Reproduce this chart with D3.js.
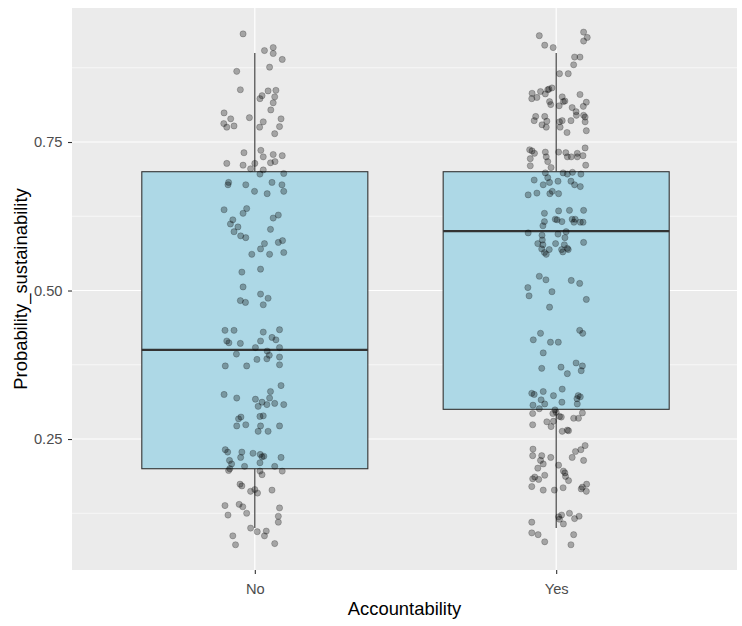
<!DOCTYPE html>
<html>
<head>
<meta charset="utf-8">
<script src="https://cdn.jsdelivr.net/npm/d3@7"></script>
<style>
  html, body { margin: 0; padding: 0; background: #ffffff; }
  svg { display: block; font-family: "Liberation Sans", Arial, sans-serif; }
</style>
</head>
<body>
<svg id="chart" width="742" height="626"></svg>
<script>
// Categories on the x axis
const categories = ["No", "Yes"];

// Box summaries per category (whisker ends, quartiles, median)
const boxLower  = [0.1, 0.1];
const boxQ1     = [0.2, 0.3];
const boxMedian = [0.4, 0.6];
const boxQ3     = [0.7, 0.7];
const boxUpper  = [0.9, 0.9];

// Y axis ticks
const yTicks = [0.25, 0.50, 0.75];
const yTickLabels = ["0.25", "0.50", "0.75"];
const yMinorTicks = [0.125, 0.375, 0.625, 0.875];

// Jittered observations, "No" group: values and horizontal jitter (category units)
const noValues = [
  0.932,0.904,0.909,0.899,0.889,0.869,0.876,0.838,0.836,0.837,0.828,0.823,0.826,0.816,0.804,0.799,
  0.791,0.789,0.781,0.775,0.777,0.784,0.789,0.775,0.776,0.764,0.732,0.736,0.725,0.729,0.727,0.717,
  0.715,0.714,0.711,0.714,0.705,0.703,0.696,0.697,0.682,0.678,0.678,0.682,0.678,0.667,0.667,0.663,
  0.636,0.638,0.630,0.627,0.622,0.619,0.612,0.607,0.603,0.599,0.592,0.589,0.579,0.584,0.581,0.570,
  0.561,0.561,0.564,0.531,0.536,0.506,0.494,0.487,0.483,0.480,0.476,0.433,0.433,0.430,0.434,0.415,
  0.412,0.411,0.421,0.417,0.415,0.404,0.404,0.398,0.393,0.391,0.385,0.388,0.384,0.373,0.373,0.375,
  0.340,0.330,0.325,0.319,0.317,0.319,0.312,0.308,0.310,0.308,0.305,0.287,0.284,0.288,0.289,0.272,
  0.274,0.272,0.272,0.263,0.263,0.232,0.228,0.228,0.226,0.224,0.220,0.221,0.219,0.219,0.214,0.208,
  0.210,0.204,0.204,0.200,0.197,0.196,0.196,0.190,0.174,0.171,0.162,0.165,0.159,0.164,0.138,0.140,
  0.136,0.134,0.122,0.125,0.120,0.110,0.100,0.094,0.095,0.087,0.087,0.072,0.074
];
const noJitter = [
  -0.039,0.032,0.061,0.061,0.091,-0.060,0.049,-0.048,0.044,0.070,0.024,0.017,0.066,0.061,0.053,-0.102,
  -0.018,-0.080,-0.103,-0.093,-0.069,0.028,0.087,0.016,0.082,0.066,-0.036,0.020,0.028,0.061,0.091,0.067,
  0.052,-0.093,-0.039,0.000,-0.014,0.028,0.017,0.096,-0.087,-0.089,-0.030,0.057,0.090,0.096,-0.001,0.041,
  -0.102,-0.027,-0.039,0.078,0.061,-0.073,-0.081,-0.056,0.052,-0.069,-0.047,-0.030,0.032,0.092,0.078,0.019,
  -0.010,0.049,0.096,-0.043,0.019,-0.039,0.019,0.044,-0.048,-0.031,0.028,-0.099,-0.069,0.028,0.082,-0.093,
  -0.086,-0.048,0.057,0.070,0.019,0.002,0.082,0.041,-0.061,0.048,0.040,0.082,0.007,-0.098,-0.027,0.082,
  0.087,0.052,-0.102,-0.060,0.002,0.049,0.024,0.040,0.066,0.096,0.011,-0.046,-0.054,0.017,0.028,-0.060,
  -0.030,0.019,0.082,0.011,0.044,-0.098,-0.090,-0.043,-0.006,0.018,0.024,0.030,-0.047,0.087,-0.084,-0.077,
  0.017,-0.034,0.066,-0.083,-0.087,0.017,0.091,0.024,-0.049,-0.043,-0.014,0.000,0.009,0.057,-0.099,-0.052,
  -0.040,0.082,-0.089,-0.027,0.078,0.078,-0.014,0.008,0.038,0.032,-0.073,-0.064,0.066
];

// Jittered observations, "Yes" group
const yesValues = [
  0.929,0.935,0.926,0.920,0.913,0.909,0.893,0.893,0.880,0.865,0.865,0.839,0.841,0.835,0.832,0.831,
  0.838,0.823,0.825,0.818,0.813,0.826,0.819,0.818,0.811,0.830,0.817,0.810,0.808,0.801,0.795,0.795,
  0.792,0.793,0.793,0.786,0.785,0.779,0.775,0.786,0.786,0.784,0.784,0.775,0.766,0.769,0.737,0.735,
  0.733,0.733,0.732,0.731,0.740,0.731,0.725,0.722,0.710,0.717,0.707,0.725,0.725,0.725,0.727,0.711,
  0.698,0.698,0.696,0.699,0.696,0.686,0.690,0.682,0.678,0.684,0.684,0.678,0.675,0.661,0.664,0.663,
  0.667,0.663,0.630,0.634,0.635,0.635,0.620,0.619,0.616,0.616,0.620,0.620,0.615,0.615,0.615,0.609,
  0.597,0.593,0.595,0.599,0.589,0.585,0.579,0.577,0.579,0.581,0.577,0.570,0.569,0.569,0.571,0.569,
  0.564,0.561,0.565,0.524,0.518,0.517,0.512,0.505,0.491,0.498,0.485,0.472,0.428,0.433,0.428,0.417,
  0.413,0.413,0.395,0.378,0.373,0.369,0.371,0.365,0.360,0.327,0.325,0.330,0.334,0.323,0.323,0.321,
  0.318,0.316,0.309,0.307,0.312,0.309,0.301,0.299,0.295,0.293,0.293,0.294,0.288,0.287,0.285,0.285,
  0.274,0.279,0.271,0.280,0.263,0.265,0.264,0.233,0.239,0.232,0.229,0.222,0.222,0.219,0.219,0.214,
  0.214,0.208,0.206,0.201,0.196,0.193,0.189,0.187,0.186,0.183,0.182,0.180,0.174,0.169,0.166,0.162,
  0.170,0.164,0.164,0.168,0.122,0.125,0.119,0.115,0.120,0.116,0.107,0.110,0.092,0.089,0.089,0.077,
  0.072
];
const yesJitter = [
  -0.056,0.091,0.103,0.091,-0.038,-0.010,0.061,0.079,0.058,0.011,0.040,-0.024,-0.014,-0.052,-0.080,-0.036,
  -0.028,-0.081,-0.064,-0.022,-0.018,0.020,0.029,0.024,0.010,0.079,0.100,0.090,0.053,0.066,0.067,0.091,
  0.096,-0.068,-0.038,-0.073,-0.031,-0.047,-0.033,0.020,0.049,0.096,0.011,0.013,0.036,0.100,-0.088,-0.080,
  -0.036,0.008,0.032,0.070,0.096,-0.072,-0.033,-0.086,-0.086,-0.028,-0.017,0.037,0.050,0.070,0.089,0.098,
  -0.036,0.023,0.037,0.054,0.082,-0.073,-0.028,-0.022,-0.043,0.006,0.049,0.061,0.080,-0.093,-0.064,-0.021,
  -0.013,0.008,-0.039,0.008,0.044,0.091,-0.003,0.003,0.019,-0.039,0.053,0.063,0.059,0.089,0.080,-0.044,
  -0.093,-0.047,0.006,0.033,0.029,-0.046,-0.061,-0.044,-0.002,0.091,0.027,-0.048,-0.023,0.018,0.037,0.040,
  -0.039,-0.033,0.022,-0.056,-0.034,0.050,0.078,-0.094,-0.090,-0.014,0.100,-0.022,-0.052,0.078,0.088,-0.076,
  -0.019,0.007,-0.043,0.066,0.087,-0.048,0.016,0.083,0.037,-0.081,-0.073,-0.043,0.020,-0.009,0.073,0.080,
  0.069,-0.050,-0.038,-0.077,0.019,0.070,-0.056,-0.004,0.000,-0.078,-0.011,0.087,0.011,0.017,0.074,0.058,
  -0.078,-0.031,-0.017,-0.009,0.020,0.037,0.041,-0.077,0.096,0.082,0.064,-0.078,-0.048,-0.018,0.053,-0.052,
  0.091,-0.043,0.008,-0.061,0.024,0.029,-0.038,0.031,-0.071,-0.078,-0.058,0.041,0.101,0.087,0.083,0.100,
  -0.081,-0.043,-0.006,0.023,0.018,0.044,0.008,0.011,0.076,0.061,0.024,-0.081,-0.081,-0.060,0.058,-0.038,
  0.049
];

const groups = [
  { cat: categories[0], values: noValues, jitter: noJitter },
  { cat: categories[1], values: yesValues, jitter: yesJitter }
];

// Layout
const panel = { left: 72, right: 737, top: 8, bottom: 570 };
const svg = d3.select("#chart");

const x = d3.scalePoint()
  .domain(categories)
  .range([panel.left + 2, panel.right])
  .padding(0.6);
const step = x.step();
const boxWidth = 0.75 * step;

const y = d3.scaleLinear()
  .domain([0.0295, 0.9756])
  .range([panel.bottom, panel.top]);

// Panel background
svg.append("rect")
  .attr("x", panel.left).attr("y", panel.top)
  .attr("width", panel.right - panel.left)
  .attr("height", panel.bottom - panel.top)
  .attr("fill", "#EBEBEB");

// Grid lines
const grid = svg.append("g");
grid.selectAll("line.minor").data(yMinorTicks).join("line")
  .attr("class", "minor")
  .attr("x1", panel.left).attr("x2", panel.right)
  .attr("y1", d => y(d)).attr("y2", d => y(d))
  .attr("stroke", "#ffffff").attr("stroke-width", 0.6);
grid.selectAll("line.major-y").data(yTicks).join("line")
  .attr("class", "major-y")
  .attr("x1", panel.left).attr("x2", panel.right)
  .attr("y1", d => y(d)).attr("y2", d => y(d))
  .attr("stroke", "#ffffff").attr("stroke-width", 1.2);
grid.selectAll("line.major-x").data(categories).join("line")
  .attr("class", "major-x")
  .attr("x1", d => x(d)).attr("x2", d => x(d))
  .attr("y1", panel.top).attr("y2", panel.bottom)
  .attr("stroke", "#ffffff").attr("stroke-width", 1.2);

// Boxplots
const boxes = svg.append("g")
  .selectAll("g")
  .data(categories.map((c, i) => ({
    cat: c, lo: boxLower[i], q1: boxQ1[i], med: boxMedian[i], q3: boxQ3[i], hi: boxUpper[i]
  })))
  .join("g");

boxes.append("line")
  .attr("x1", d => x(d.cat)).attr("x2", d => x(d.cat))
  .attr("y1", d => y(d.q3)).attr("y2", d => y(d.hi))
  .attr("stroke", "#333333").attr("stroke-width", 1.1);
boxes.append("line")
  .attr("x1", d => x(d.cat)).attr("x2", d => x(d.cat))
  .attr("y1", d => y(d.q1)).attr("y2", d => y(d.lo))
  .attr("stroke", "#333333").attr("stroke-width", 1.1);
boxes.append("rect")
  .attr("x", d => x(d.cat) - boxWidth / 2)
  .attr("width", boxWidth)
  .attr("y", d => y(d.q3))
  .attr("height", d => y(d.q1) - y(d.q3))
  .attr("fill", "#ADD8E6")
  .attr("stroke", "#333333").attr("stroke-width", 1.1);
boxes.append("line")
  .attr("x1", d => x(d.cat) - boxWidth / 2).attr("x2", d => x(d.cat) + boxWidth / 2)
  .attr("y1", d => y(d.med)).attr("y2", d => y(d.med))
  .attr("stroke", "#333333").attr("stroke-width", 2.4);

// Jittered points
const points = groups.flatMap(g => g.values.map((v, i) => ({ cat: g.cat, v, j: g.jitter[i] })));
svg.append("g")
  .selectAll("circle")
  .data(points)
  .join("circle")
  .attr("cx", d => x(d.cat) + d.j * step)
  .attr("cy", d => y(d.v))
  .attr("r", 3.1)
  .attr("fill", "#000000").attr("fill-opacity", 0.3)
  .attr("stroke", "#000000").attr("stroke-opacity", 0.3).attr("stroke-width", 0.7);

// Axes
const yAxis = svg.append("g")
  .attr("transform", `translate(${panel.left},0)`)
  .call(d3.axisLeft(y).tickValues(yTicks).tickFormat((d, i) => yTickLabels[i]).tickSize(4).tickPadding(5.5));
yAxis.select(".domain").remove();
yAxis.selectAll(".tick line").attr("stroke", "#333333").attr("stroke-width", 1.1);
yAxis.selectAll(".tick text")
  .attr("fill", "#4D4D4D")
  .style("font-size", "14.7px")
  .style("font-family", "'Liberation Sans', Arial, sans-serif");

const xAxis = svg.append("g")
  .attr("transform", `translate(0,${panel.bottom})`)
  .call(d3.axisBottom(x).tickSize(4).tickPadding(9.5));
xAxis.select(".domain").remove();
xAxis.selectAll(".tick line").attr("stroke", "#333333").attr("stroke-width", 1.1);
xAxis.selectAll(".tick text")
  .attr("fill", "#4D4D4D")
  .style("font-size", "14.7px")
  .style("font-family", "'Liberation Sans', Arial, sans-serif");

// Axis titles
svg.append("text")
  .attr("x", (panel.left + panel.right) / 2)
  .attr("y", 615)
  .attr("text-anchor", "middle")
  .attr("fill", "#000000")
  .style("font-size", "18.4px")
  .text("Accountability");

svg.append("text")
  .attr("transform", `translate(27,${(panel.top + panel.bottom) / 2}) rotate(-90)`)
  .attr("text-anchor", "middle")
  .attr("fill", "#000000")
  .style("font-size", "18.4px")
  .text("Probability_sustainability");
</script>
</body>
</html>
